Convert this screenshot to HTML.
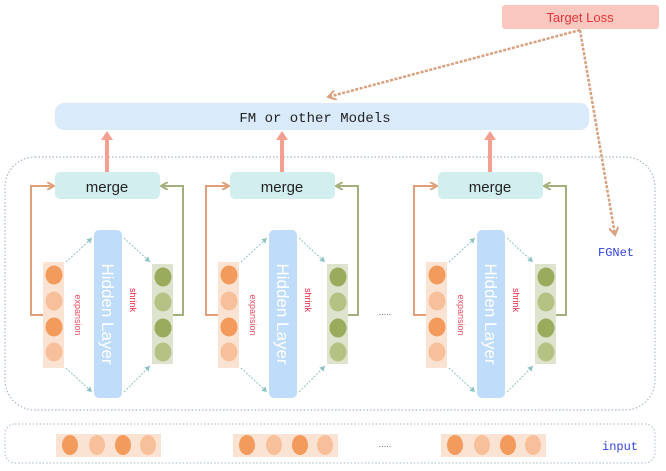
<!DOCTYPE html>
<html><head><meta charset="utf-8"><style>body{margin:0;background:#fff}svg{display:block}</style></head>
<body>
<svg width="666" height="471" viewBox="0 0 666 471" xmlns="http://www.w3.org/2000/svg">
<defs>
<marker id="ao" markerWidth="8" markerHeight="8" refX="6" refY="4" orient="auto" markerUnits="userSpaceOnUse"><path d="M0,0 L7,4 L0,8" fill="none" stroke="#e0a07a" stroke-width="2"/></marker>
<marker id="ag" markerWidth="8" markerHeight="8" refX="6" refY="4" orient="auto" markerUnits="userSpaceOnUse"><path d="M0,0 L7,4 L0,8" fill="none" stroke="#a4b07c" stroke-width="2"/></marker>
<marker id="at" markerWidth="6" markerHeight="6" refX="5" refY="3" orient="auto" markerUnits="userSpaceOnUse"><path d="M0,0 L5,3 L0,6z" fill="#8fc4c4"/></marker>
<marker id="ad" markerWidth="10" markerHeight="10" refX="8" refY="5" orient="auto" markerUnits="userSpaceOnUse"><path d="M0,0 L8,5 L0,10" fill="none" stroke="#d9a07e" stroke-width="2"/></marker>
<g id="blk">
 <line x1="107" y1="172" x2="107" y2="138" stroke="#f4a090" stroke-width="4"/>
 <path d="M101,140 L107,131 L113,140z" fill="#f4a090"/>
 <rect x="55" y="172" width="105" height="27" rx="5" fill="#d3eeee"/>
 <text x="107" y="192" font-family="Liberation Sans,sans-serif" font-size="15" text-anchor="middle" fill="#222">merge</text>
 <path d="M43,315 H31 V186 H53" fill="none" stroke="#e0a07a" stroke-width="2" marker-end="url(#ao)"/>
 <path d="M173,315 H183 V186 H162" fill="none" stroke="#a4b07c" stroke-width="2" marker-end="url(#ag)"/>
 <rect x="43" y="262" width="21" height="106" fill="#fbe3d3"/>
 <ellipse cx="54" cy="275" rx="8.5" ry="9.5" fill="#f29b5c"/>
 <ellipse cx="54" cy="301" rx="8.5" ry="9.5" fill="#f7c09a"/>
 <ellipse cx="54" cy="327" rx="8.5" ry="9.5" fill="#f29b5c"/>
 <ellipse cx="54" cy="352" rx="8.5" ry="9.5" fill="#f7c09a"/>
 <rect x="152" y="264" width="21" height="100" fill="#dde3cc"/>
 <ellipse cx="163" cy="277" rx="8.5" ry="9.5" fill="#9aab5e"/>
 <ellipse cx="163" cy="302" rx="8.5" ry="9.5" fill="#b5c283"/>
 <ellipse cx="163" cy="328" rx="8.5" ry="9.5" fill="#9aab5e"/>
 <ellipse cx="163" cy="352" rx="8.5" ry="9.5" fill="#b5c283"/>
 <g stroke="#8fc4c4" stroke-width="1" stroke-dasharray="2,1.5" fill="none">
  <line x1="66" y1="262" x2="92" y2="238" marker-end="url(#at)"/>
  <line x1="66" y1="368" x2="92" y2="392" marker-end="url(#at)"/>
  <line x1="124" y1="238" x2="150" y2="262" marker-end="url(#at)"/>
  <line x1="124" y1="392" x2="150" y2="366" marker-end="url(#at)"/>
 </g>
 <rect x="94" y="230" width="28" height="168" rx="5" fill="#bfdcfb"/>
 <text transform="translate(102,314) rotate(90)" font-family="Liberation Sans,sans-serif" font-size="17" text-anchor="middle" fill="#fff">Hidden Layer</text>
 <text transform="translate(75,315) rotate(90)" font-family="Liberation Sans,sans-serif" font-size="9" text-anchor="middle" fill="#e85060">expansion</text>
 <text transform="translate(130,300) rotate(90)" font-family="Liberation Sans,sans-serif" font-size="9" text-anchor="middle" fill="#e82040">shrink</text>
</g>
<g id="inp">
 <rect x="56" y="434" width="105" height="23" fill="#fbe3d3"/>
 <ellipse cx="70" cy="445" rx="8" ry="10" fill="#f29b5c"/>
 <ellipse cx="97" cy="445" rx="8" ry="10" fill="#f7c09a"/>
 <ellipse cx="123" cy="445" rx="8" ry="10" fill="#f29b5c"/>
 <ellipse cx="148" cy="445" rx="8" ry="10" fill="#f7c09a"/>
</g>
</defs>
<rect x="5" y="157" width="650" height="253" rx="30" fill="none" stroke="#a8b8c8" stroke-width="1.2" stroke-dasharray="1.5,2"/>
<rect x="5" y="424" width="650" height="39" rx="10" fill="none" stroke="#b8c8d8" stroke-width="1.2" stroke-dasharray="1.5,2"/>
<rect x="55" y="103" width="534" height="27" rx="9" fill="#d9eafb"/>
<text x="315" y="122" font-family="Liberation Mono,monospace" font-size="14" text-anchor="middle" fill="#222">FM or other Models</text>
<rect x="502" y="5" width="157" height="24" rx="3" fill="#fbc8c0"/>
<text x="580" y="22" font-family="Liberation Sans,sans-serif" font-size="13" text-anchor="middle" fill="#e8333a">Target Loss</text>
<g stroke="#d9a07e" stroke-width="2.5" stroke-dasharray="3,1.5" fill="none">
 <line x1="580" y1="30" x2="328" y2="97" marker-end="url(#ad)"/>
 <line x1="580" y1="30" x2="615" y2="235" marker-end="url(#ad)"/>
</g>
<use href="#blk"/>
<use href="#blk" transform="translate(175,0)"/>
<use href="#blk" transform="translate(383,0)"/>
<text x="385" y="315" font-family="Liberation Sans,sans-serif" font-size="9" text-anchor="middle" fill="#666">.....</text>
<text x="598" y="256" font-family="Liberation Mono,monospace" font-size="12" fill="#3344dd">FGNet</text>
<use href="#inp"/>
<use href="#inp" transform="translate(177,0)"/>
<use href="#inp" transform="translate(385,0)"/>
<text x="385" y="447" font-family="Liberation Sans,sans-serif" font-size="9" text-anchor="middle" fill="#666">.....</text>
<text x="602" y="450" font-family="Liberation Mono,monospace" font-size="12" fill="#3344dd">input</text>
</svg>
</body></html>
